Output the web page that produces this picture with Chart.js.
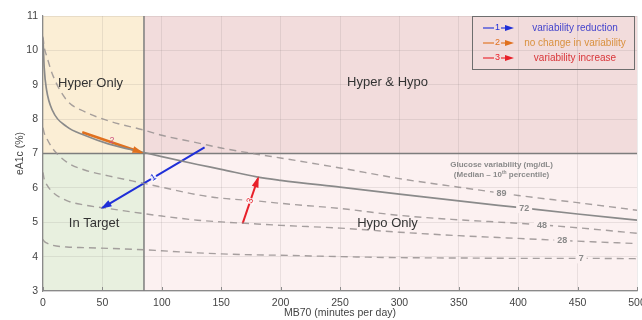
<!DOCTYPE html>
<html>
<head>
<meta charset="utf-8">
<script src="https://cdn.jsdelivr.net/npm/chart.js@4.4.1/dist/chart.umd.min.js"></script>
<style>
  html, body { margin: 0; padding: 0; background: #fff; }
</style>
</head>
<body>
<canvas id="chart" width="642" height="320"></canvas>
<script>
// eA1c vs MB70 with glucose variability iso-lines

const FONT = "'Liberation Sans', Arial, sans-serif";

// thresholds splitting the plane into quadrants
const mbLimit = 85;   // minutes per day
const a1cLimit = 7;   // %

// MB70 sample points for the variability curves
const mbX = [0, 1, 3, 8, 20, 35, 55, 85, 100, 130, 150, 180, 200, 250, 300, 350, 400, 450, 500];

// eA1c (%) for each glucose variability level (mg/dL)
const var89 = [10.4, 10.1, 9.85, 9.3, 8.55, 8.22, 7.95, 7.68, 7.53, 7.31, 7.16, 6.98, 6.87, 6.58, 6.27, 6.02, 5.78, 5.57, 5.35];
const var72 = [10.35, 9.5, 8.85, 8.25, 7.78, 7.53, 7.28, 7.03, 6.91, 6.68, 6.54, 6.32, 6.22, 6.02, 5.82, 5.62, 5.43, 5.24, 5.06];
const var48 = [7.75, 7.6, 7.45, 7.15, 6.75, 6.52, 6.35, 6.13, 6.02, 5.8, 5.7, 5.62, 5.55, 5.4, 5.2, 5.07, 4.97, 4.84, 4.68];
const var28 = [6.45, 6.25, 6.1, 5.88, 5.63, 5.5, 5.4, 5.25, 5.18, 5.06, 5.01, 4.95, 4.91, 4.83, 4.71, 4.61, 4.53, 4.45, 4.38];
const var7  = [4.5, 4.45, 4.4, 4.33, 4.28, 4.26, 4.24, 4.2, 4.17, 4.11, 4.08, 4.05, 4.04, 4.0, 3.97, 3.96, 3.95, 3.95, 3.94];

const curveNames = ['89', '72', '48', '28', '7'];
const curveLabelX = [386, 405, 420, 437, 453];

// treatment arrows: [MB70, eA1c] start and end
const arrowFrom = [[136, 7.18], [33, 7.62], [168, 4.96]];
const arrowTo   = [[50, 5.42], [83, 7.03], [181, 6.28]];
const arrowNames = ['1', '2', '3'];
const arrowLegend = ['variability reduction', 'no change in variability', 'variability increase'];

const xTicks = [0, 50, 100, 150, 200, 250, 300, 350, 400, 450, 500];
const yTicks = [3, 4, 5, 6, 7, 8, 9, 10, 11];

const arrowColors = ['#1f2fd8', '#e0701e', '#e8202a'];
const legendText = ['#4444cc', '#d9913f', '#d9363a'];
const regionFill = { hyper: '#fbeed5', both: '#f2dcdc', target: '#e8f0df', hypo: '#fcf1f1' };

function pts(ys) {
  return mbX.map((x, i) => ({ x: x, y: ys[i] }));
}

function curveSet(ys, solid) {
  return {
    data: pts(ys),
    showLine: true,
    borderColor: solid ? '#8a8a8a' : 'rgba(150,145,145,0.85)',
    borderWidth: solid ? 1.7 : 1.4,
    borderDash: solid ? [] : [7, 5],
    pointRadius: 0,
    cubicInterpolationMode: 'monotone'
  };
}

const datasets = [
  curveSet(var89, false),
  curveSet(var72, true),
  curveSet(var48, false),
  curveSet(var28, false),
  curveSet(var7, false)
];
arrowFrom.forEach((p, i) => {
  datasets.push({
    data: [{ x: p[0], y: p[1] }, { x: arrowTo[i][0], y: arrowTo[i][1] }],
    showLine: true,
    borderColor: arrowColors[i],
    borderWidth: i === 1 ? 2.6 : 2,
    pointRadius: 0
  });
});

// value of a curve at x
function curveAt(ys, x) {
  for (let i = 1; i < mbX.length; i++) {
    if (x <= mbX[i]) {
      const t = (x - mbX[i - 1]) / (mbX[i] - mbX[i - 1]);
      return ys[i - 1] + t * (ys[i] - ys[i - 1]);
    }
  }
  return ys[ys.length - 1];
}

function drawHead(ctx, x0, y0, x1, y1, color, len, w) {
  const a = Math.atan2(y1 - y0, x1 - x0);
  ctx.save();
  ctx.translate(x1, y1);
  ctx.rotate(a);
  ctx.beginPath();
  ctx.moveTo(2, 0);
  ctx.lineTo(-len, -w / 2);
  ctx.lineTo(-len, w / 2);
  ctx.closePath();
  ctx.fillStyle = color;
  ctx.fill();
  ctx.restore();
}

const regions = {
  id: 'regions',
  beforeDraw(chart) {
    const { ctx, scales: { x, y } } = chart;
    const x0 = x.getPixelForValue(0), xm = x.getPixelForValue(mbLimit), x1 = x.getPixelForValue(500);
    const yT = y.getPixelForValue(11), ym = y.getPixelForValue(a1cLimit), yB = y.getPixelForValue(3);
    ctx.save();
    ctx.fillStyle = regionFill.hyper;  ctx.fillRect(x0, yT, xm - x0, ym - yT);
    ctx.fillStyle = regionFill.both;   ctx.fillRect(xm, yT, x1 - xm, ym - yT);
    ctx.fillStyle = regionFill.target; ctx.fillRect(x0, ym, xm - x0, yB - ym);
    ctx.fillStyle = regionFill.hypo;   ctx.fillRect(xm, ym, x1 - xm, yB - ym);
    ctx.restore();
  },
  beforeDatasetsDraw(chart) {
    const { ctx, scales: { x, y } } = chart;
    const xm = x.getPixelForValue(mbLimit), ym = y.getPixelForValue(a1cLimit);
    ctx.save();

    // short inward tick marks along the bottom axis
    ctx.strokeStyle = '#8a8a8a';
    ctx.lineWidth = 1;
    ctx.beginPath();
    xTicks.forEach(v => {
      const px = Math.round(x.getPixelForValue(v)) + 0.5;
      ctx.moveTo(px, y.bottom);
      ctx.lineTo(px, y.bottom - 4);
    });
    ctx.stroke();

    ctx.strokeStyle = '#7d7d7d';
    ctx.lineWidth = 1.5;
    ctx.beginPath();
    ctx.moveTo(x.getPixelForValue(0), ym);
    ctx.lineTo(x.getPixelForValue(500), ym);
    ctx.moveTo(xm, y.getPixelForValue(3));
    ctx.lineTo(xm, y.getPixelForValue(11));
    ctx.stroke();

    // quadrant names
    ctx.fillStyle = '#333';
    ctx.font = '13px ' + FONT;
    ctx.textAlign = 'center';
    ctx.textBaseline = 'middle';
    ctx.fillText('Hyper Only', x.getPixelForValue(40), y.getPixelForValue(9.03));
    ctx.fillText('Hyper & Hypo', x.getPixelForValue(290), y.getPixelForValue(9.06));
    ctx.fillText('In Target', x.getPixelForValue(43), y.getPixelForValue(4.97));
    ctx.fillText('Hypo Only', x.getPixelForValue(290), y.getPixelForValue(4.97));

    ctx.fillStyle = '#8a8a8a';
    ctx.font = 'bold 8px ' + FONT;
    const gx = x.getPixelForValue(386);
    ctx.fillText('Glucose variability (mg/dL)', gx, y.getPixelForValue(6.67));
    const line2 = y.getPixelForValue(6.37);
    const a = '(Median \u2013 10', b = ' percentile)';
    const wa = ctx.measureText(a).width, wb = ctx.measureText(b).width;
    ctx.font = 'bold 5px ' + FONT;
    const ws = ctx.measureText('th').width;
    const left = gx - (wa + ws + wb) / 2;
    ctx.textAlign = 'left';
    ctx.fillText('th', left + wa, line2 - 3);
    ctx.font = 'bold 8px ' + FONT;
    ctx.fillText(a, left, line2);
    ctx.fillText(b, left + wa + ws, line2);
    ctx.restore();
  },
  afterDatasetsDraw(chart) {
    const { ctx, scales: { x, y } } = chart;
    const curves = [var89, var72, var48, var28, var7];
    ctx.save();
    ctx.font = 'bold 9px ' + FONT;
    ctx.textAlign = 'center';
    ctx.textBaseline = 'middle';
    curves.forEach((ys, i) => {
      const px = x.getPixelForValue(curveLabelX[i]);
      const py = y.getPixelForValue(curveAt(ys, curveLabelX[i]));
      const w = ctx.measureText(curveNames[i]).width + 6;
      ctx.fillStyle = regionFill.hypo;
      ctx.fillRect(px - w / 2, py - 5, w, 10);
      ctx.fillStyle = '#8a8a8a';
      ctx.fillText(curveNames[i], px, py);
    });

    // arrow heads and numbers
    arrowFrom.forEach((p, i) => {
      const x0 = x.getPixelForValue(p[0]), y0 = y.getPixelForValue(p[1]);
      const x1 = x.getPixelForValue(arrowTo[i][0]), y1 = y.getPixelForValue(arrowTo[i][1]);
      drawHead(ctx, x0, y0, x1, y1, arrowColors[i], 9, 7);
      const mx = (x0 + x1) / 2, my = (y0 + y1) / 2;
      ctx.save();
      ctx.translate(mx, my);
      if (i !== 1) ctx.rotate(Math.atan2(y1 - y0, x1 - x0) + (i === 0 ? Math.PI : 0));
      ctx.font = '9px ' + FONT;
      if (i === 1) {
        ctx.fillStyle = '#cc5580';
        ctx.fillText(arrowNames[i], 0, -2);
      } else {
        ctx.fillStyle = 'rgba(255,255,255,0.85)';
        ctx.fillRect(-3, -4, 6, 8);
        ctx.fillStyle = arrowColors[i];
        ctx.fillText(arrowNames[i], 0, 0);
      }
      ctx.restore();
    });
    ctx.restore();
  },
  afterDraw(chart) {
    const { ctx, chartArea: area } = chart;
    const bx = area.right - 165, by = area.top;
    ctx.save();
    ctx.strokeStyle = '#6e6e6e';
    ctx.lineWidth = 1;
    ctx.strokeRect(bx + 0.5, by + 0.5, 162, 53);
    ctx.textBaseline = 'middle';
    arrowLegend.forEach((txt, i) => {
      const ry = by + 12 + i * 15;
      ctx.strokeStyle = arrowColors[i];
      ctx.globalAlpha = 0.75;
      ctx.lineWidth = 1.3;
      ctx.beginPath();
      ctx.moveTo(bx + 11, ry);
      ctx.lineTo(bx + 22, ry);
      ctx.moveTo(bx + 29, ry);
      ctx.lineTo(bx + 34, ry);
      ctx.stroke();
      ctx.globalAlpha = 1;
      ctx.font = '9px ' + FONT;
      ctx.textAlign = 'center';
      ctx.fillStyle = arrowColors[i];
      ctx.fillText(arrowNames[i], bx + 25.5, ry);
      drawHead(ctx, bx + 30, ry, bx + 40, ry, arrowColors[i], 7, 6);
      ctx.font = '10px ' + FONT;
      ctx.fillStyle = legendText[i];
      ctx.fillText(txt, bx + 103, ry);
    });
    ctx.restore();
  }
};

new Chart(document.getElementById('chart'), {
  type: 'scatter',
  data: { datasets: datasets },
  options: {
    responsive: false,
    animation: false,
    layout: { padding: { top: 16, right: 5, left: 0, bottom: 0 } },
    plugins: { legend: { display: false }, tooltip: { enabled: false } },
    scales: {
      x: {
        type: 'linear',
        min: 0, max: 500,
        afterBuildTicks: s => { s.ticks = xTicks.map(v => ({ value: v })); },
        afterFit: s => { s.height = 29; s.paddingLeft = 0; s.paddingRight = 0; },
        ticks: { color: '#444', font: { family: FONT, size: 10.5 }, padding: 6, maxRotation: 0 },
        grid: { color: 'rgba(110,100,100,0.13)', drawTicks: false },
        border: { color: '#8a8a8a', width: 1.2 },
        title: { display: true, text: 'MB70 (minutes per day)', color: '#444', font: { family: FONT, size: 10.5 }, padding: { top: 0, bottom: 1 } }
      },
      y: {
        min: 3, max: 11,
        afterBuildTicks: s => { s.ticks = yTicks.map(v => ({ value: v })); },
        afterFit: s => { s.width = 43; s.paddingTop = 0; s.paddingBottom = 0; },
        ticks: { color: '#444', font: { family: FONT, size: 10.5 }, padding: 5 },
        grid: { color: 'rgba(110,100,100,0.13)', drawTicks: false },
        border: { color: '#8a8a8a', width: 1.2 },
        title: { display: true, text: 'eA1c (%)', color: '#444', font: { family: FONT, size: 10.5 }, padding: { top: 14, bottom: 0 } }
      }
    }
  },
  plugins: [regions]
});
</script>
</body>
</html>
